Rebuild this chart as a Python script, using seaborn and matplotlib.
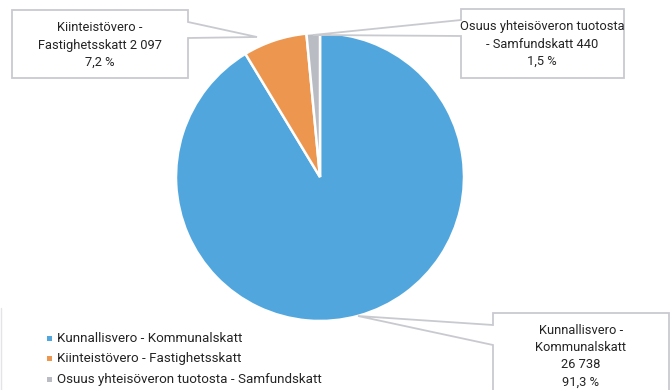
import matplotlib
matplotlib.use("Agg")
import matplotlib.pyplot as plt
from matplotlib import font_manager
from matplotlib.patches import Polygon, Rectangle
import seaborn as sns

# Tax revenue categories (Finnish - Swedish) and amounts
categories = [
    "Kunnallisvero - Kommunalskatt",
    "Kiinteistövero - Fastighetsskatt",
    "Osuus yhteisöveron tuotosta - Samfundskatt",
]
label_names = [
    "Kunnallisvero -\nKommunalskatt",
    "Kiinteistövero -\nFastighetsskatt",
    "Osuus yhteisöveron tuotosta\n- Samfundskatt",
]
values = [26738, 2097, 440]
colors = ["#51A7DD", "#EC964F", "#B9BCC3"]

sns.set_theme(style="white")
available = {f.name for f in font_manager.fontManager.ttflist}
family = ["Liberation Sans Narrow"] if "Liberation Sans Narrow" in available else ["Roboto"]
plt.rcParams["font.family"] = family + ["DejaVu Sans"]

W, H = 671, 390
fig = plt.figure(figsize=(W / 100, H / 100), dpi=100)
ax = fig.add_axes([0, 0, 1, 1])


def Y(py):
    """Convert a top-down pixel row into axis units."""
    return H - py


total = sum(values)
wedges, _ = ax.pie(
    values,
    colors=colors,
    startangle=90,
    counterclock=False,
    center=(320, Y(177)),
    radius=144,
    wedgeprops=dict(edgecolor="white", linewidth=1.8),
    frame=True,
)
ax.set_xlim(0, W)
ax.set_ylim(0, H)
ax.set_aspect("equal")
ax.axis("off")


def fmt_int(v):
    return f"{v:,}".replace(",", " ")


def fmt_pct(v):
    return f"{v * 100:.1f}".replace(".", ",") + " %"


line_col = "#C9CAD0"
text_col = "#242424"


def callout(points, text, cx, cy):
    poly = Polygon([(x, Y(y)) for x, y in points], closed=True,
                   facecolor="white", edgecolor=line_col, linewidth=1.3, zorder=5)
    ax.add_patch(poly)
    ax.text(cx, Y(cy), text, ha="center", va="center", fontsize=9.3,
            color=text_col, linespacing=1.42, zorder=6)


labels = [(n, v, v / total) for n, v in zip(label_names, values)]

# Kunnallisvero callout (bottom right)
n, v, p = labels[0]
callout([(493, 313), (669, 313), (669, 400), (493, 400), (493, 345), (358, 316), (493, 325)],
        f"{n}\n{fmt_int(v)}\n{fmt_pct(p)}", 581, 356)

# Kiinteistövero callout (top left)
n, v, p = labels[1]
callout([(12, 10), (188, 10), (188, 22), (257, 37), (188, 38), (188, 78), (12, 78)],
        f"{n} {fmt_int(v)}\n{fmt_pct(p)}", 100, 45)

# Yhteisövero callout (top right)
n, v, p = labels[2]
callout([(461, 9), (624, 9), (624, 78), (461, 78), (461, 36), (313, 35), (461, 20)],
        f"{n} {fmt_int(v)}\n{fmt_pct(p)}", 542, 44)

# Legend
ax.plot([1, 1], [Y(308), Y(395)], color="#E4E4E8", linewidth=1.0)
for i, (cat, col) in enumerate(zip(categories, colors)):
    yy = Y(338 + i * 20.5)
    ax.add_patch(Rectangle((47, yy - 2.5), 5, 5, facecolor=col, edgecolor="none"))
    ax.text(57, yy, cat, ha="left", va="center", fontsize=9.6, color=text_col)

fig.savefig("out.png", dpi=100)
